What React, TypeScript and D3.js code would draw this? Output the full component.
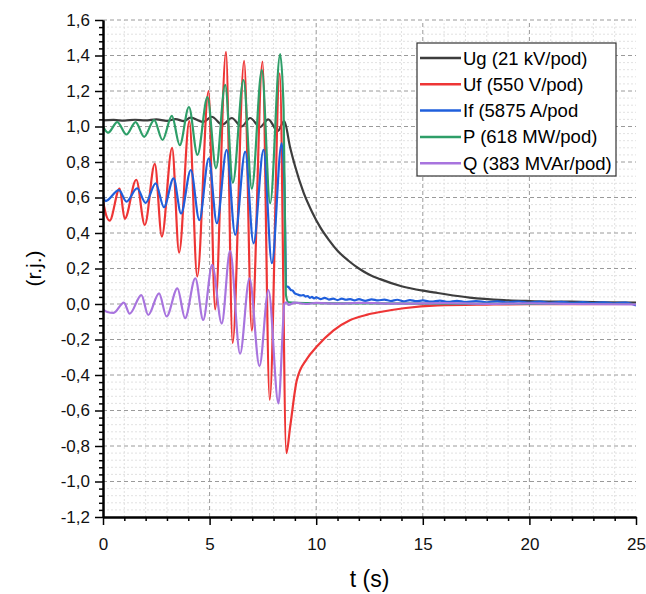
import React, { useEffect, useRef } from "react";
import * as d3 from "d3";

type Pt = [number, number];

// series: [t (s), value (r.j.)]
const ugData: Pt[] = [
  [0, 1.035], [0.5, 1.037], [1, 1.033], [1.5, 1.038], [2, 1.034], [2.5, 1.04], [3, 1.032],
  [3.4, 1.042], [3.8, 1.03], [4.1, 1.05], [4.7, 1.025], [5.1, 1.055], [5.6, 1.01], [6.04, 1.048],
  [6.5, 1.0], [6.9, 1.048], [7.37, 0.997], [7.75, 1.04], [8.2, 0.975], [8.5, 1.03], [8.78, 0.88],
  [9.0, 0.78], [9.4, 0.63], [9.8, 0.52], [10.2, 0.43], [10.6, 0.36], [11.0, 0.3], [11.5, 0.245],
  [12.0, 0.2], [12.5, 0.165], [13.0, 0.14], [14.0, 0.1], [15.0, 0.075], [15.7, 0.062],
  [17.2, 0.036], [18.8, 0.022], [20, 0.017], [21.9, 0.013], [23.5, 0.01], [25, 0.008],
];

const ufData: Pt[] = [
  [0, 0.58], [0.15, 0.5], [0.31, 0.47], [0.78, 0.65], [1.02, 0.48], [1.56, 0.7], [1.96, 0.445],
  [2.43, 0.79], [2.76, 0.38], [3.24, 0.88], [3.57, 0.29], [4.05, 1.03], [4.42, 0.155],
  [4.95, 1.2], [5.26, -0.03], [5.77, 1.42], [6.08, -0.22], [6.62, 1.37], [6.98, -0.15],
  [7.48, 1.365], [7.82, -0.54], [8.29, 1.3], [8.6, -0.84], [8.78, -0.69], [9.09, -0.43],
  [9.56, -0.31], [10.03, -0.24], [10.8, -0.15], [11.6, -0.09], [12.4, -0.06], [13.0, -0.045],
  [14.1, -0.024], [15.7, -0.008], [18, -0.003], [20, -0.001], [25, 0.0],
];

const ifData: Pt[] = [
  [0, 0.615], [0.12, 0.58], [0.75, 0.642], [1.1, 0.577], [1.6, 0.652], [2.0, 0.57], [2.47, 0.68],
  [2.86, 0.545], [3.31, 0.708], [3.66, 0.51], [4.12, 0.755], [4.52, 0.473], [4.96, 0.82],
  [5.34, 0.455], [5.8, 0.868], [6.2, 0.39], [6.67, 0.858], [7.06, 0.342], [7.53, 0.868],
  [7.92, 0.23], [8.38, 0.905], [8.5, 0.7], [8.6, 0.1], [8.7, 0.095], [8.8, 0.08], [8.9, 0.075],
  [9.0, 0.06], [9.1, 0.055], [9.2, 0.05], [9.3, 0.048], [9.4, 0.05], [9.5, 0.042], [9.6, 0.045],
  [9.7, 0.035], [9.8, 0.04], [9.9, 0.032], [10.0, 0.038], [10.2, 0.028], [10.4, 0.035],
  [10.6, 0.025], [10.8, 0.03], [11.0, 0.022], [11.2, 0.03], [11.4, 0.024], [11.6, 0.028],
  [11.8, 0.02], [12.0, 0.027], [12.3, 0.018], [12.6, 0.026], [12.9, 0.02], [13.2, 0.025],
  [13.5, 0.017], [13.8, 0.024], [14.1, 0.015], [14.4, 0.022], [14.7, 0.016], [15.0, 0.02],
  [15.4, 0.013], [15.8, 0.019], [16.2, 0.012], [16.6, 0.018], [17.0, 0.011], [17.5, 0.016],
  [18.0, 0.01], [18.5, 0.015], [19.0, 0.009], [19.5, 0.014], [20.0, 0.008], [20.5, 0.013],
  [21.0, 0.007], [21.5, 0.012], [22.0, 0.006], [22.5, 0.011], [23.0, 0.005], [23.5, 0.01],
  [24.0, 0.004], [24.5, 0.008], [25.0, -0.008],
];

const pData: Pt[] = [
  [0, 1.0], [0.24, 0.965], [0.67, 1.025], [1.1, 0.955], [1.53, 1.025], [1.93, 0.942],
  [2.4, 1.036], [2.79, 0.924], [3.23, 1.06], [3.6, 0.895], [4.03, 1.11], [4.43, 0.84],
  [4.9, 1.165], [5.3, 0.765], [5.73, 1.234], [6.09, 0.683], [6.59, 1.262], [6.98, 0.65],
  [7.45, 1.318], [7.84, 0.567], [8.31, 1.408], [8.47, 1.1], [8.55, 0.3], [8.58, 0.05],
  [8.7, 0.01], [9.5, 0.005], [12, 0.003], [25, 0.0],
];

const qData: Pt[] = [
  [0, -0.03], [0.2, -0.045], [0.5, -0.05], [0.98, 0.008], [1.25, -0.055], [1.8, 0.05],
  [2.12, -0.062], [2.63, 0.06], [2.98, -0.07], [3.49, 0.088], [3.85, -0.08], [4.33, 0.145],
  [4.7, -0.09], [5.12, 0.22], [5.57, -0.11], [5.96, 0.3], [6.43, -0.28], [6.87, 0.145],
  [7.34, -0.35], [7.76, 0.079], [8.23, -0.56], [8.45, -0.1], [8.5, 0.0], [8.6, 0.01],
  [8.7, -0.005], [9.0, 0.008], [9.5, 0.0], [10, 0.006], [11, 0.002], [12, 0.006], [14, 0.002],
  [16, 0.005], [18, 0.001], [20, 0.004], [22, 0.0], [25, -0.002],
];

const seriesData = [ugData, ufData, ifData, pData, qData];
const seriesNames = [
  "Ug (21 kV/pod)",
  "Uf (550 V/pod)",
  "If (5875 A/pod",
  "P (618 MW/pod)",
  "Q (383 MVAr/pod)",
];
const seriesColors = ["#3d3d3d", "#ee3535", "#1f5fdc", "#2e9e68", "#a874de"];

const xTicks = [0, 5, 10, 15, 20, 25];
const yTicks = [-1.2, -1.0, -0.8, -0.6, -0.4, -0.2, 0, 0.2, 0.4, 0.6, 0.8, 1.0, 1.2, 1.4, 1.6];

const fmt = (v: number) => v.toFixed(1).replace(".", ",");

export default function App() {
  const svgRef = useRef(null);

  useEffect(() => {
    const width = 646;
    const height = 594;
    const svg = d3.select(svgRef.current)
      .attr("width", width)
      .attr("height", height);

    svg.selectAll("*").remove();

    const margin = { left: 103, top: 20, right: 10, bottom: 77 };
    const x = d3.scaleLinear().domain([0, 25]).range([margin.left, width - margin.right]);
    const y = d3.scaleLinear().domain([-1.2, 1.6]).range([height - margin.bottom, margin.top]);

    svg.append("rect").attr("width", width).attr("height", height).attr("fill", "#fff");

    // minor grid
    const xMinor = d3.range(0, 26).filter((d) => d % 5 !== 0);
    const yMinor = d3.range(0, 71).map((i) => -1.2 + i * 0.04).filter((_, i) => i % 5 !== 0);
    const grid = svg.append("g");
    grid.selectAll(".xm").data(xMinor).join("line")
      .attr("x1", (d) => x(d)).attr("x2", (d) => x(d))
      .attr("y1", y(-1.2)).attr("y2", y(1.6))
      .attr("stroke", "#d9d9d9").attr("stroke-dasharray", "2,2").attr("stroke-width", 0.8);
    grid.selectAll(".ym").data(yMinor).join("line")
      .attr("x1", x(0)).attr("x2", x(25))
      .attr("y1", (d) => y(d)).attr("y2", (d) => y(d))
      .attr("stroke", "#d9d9d9").attr("stroke-dasharray", "2,2").attr("stroke-width", 0.8);
    // major grid
    grid.selectAll(".xM").data(xTicks.filter((d) => d > 0 && d < 25)).join("line")
      .attr("x1", (d) => x(d)).attr("x2", (d) => x(d))
      .attr("y1", y(-1.2)).attr("y2", y(1.6))
      .attr("stroke", "#9a9a9a").attr("stroke-dasharray", "4,3").attr("stroke-width", 1);
    grid.selectAll(".yM").data(yTicks.filter((d) => d > -1.2)).join("line")
      .attr("x1", x(0)).attr("x2", x(25))
      .attr("y1", (d) => y(d)).attr("y2", (d) => y(d))
      .attr("stroke", "#9a9a9a").attr("stroke-dasharray", "4,3").attr("stroke-width", 1);

    // lines
    svg.append("clipPath").attr("id", "plotclip")
      .append("rect")
      .attr("x", x(0)).attr("y", y(1.6) - 5)
      .attr("width", x(25) - x(0)).attr("height", y(-1.2) - y(1.6) + 5);

    const line = d3.line<Pt>()
      .x((d) => x(d[0]))
      .y((d) => y(d[1]))
      .curve(d3.curveMonotoneX);

    const lines = svg.append("g").attr("clip-path", "url(#plotclip)");
    seriesData.forEach((data, i) => {
      lines.append("path")
        .attr("d", line(data))
        .attr("fill", "none")
        .attr("stroke", seriesColors[i])
        .attr("stroke-width", 2.2)
        .attr("stroke-linejoin", "round");
    });

    // axes
    const font = "'Liberation Sans', Arial, sans-serif";
    const yAxis = svg.append("g")
      .attr("transform", `translate(${margin.left},0)`)
      .call(d3.axisLeft(y).tickValues(yTicks).tickSize(8).tickSizeOuter(0).tickPadding(5).tickFormat(fmt));
    svg.append("g")
      .attr("transform", `translate(${margin.left},0)`)
      .call(d3.axisLeft(y).tickValues(yMinor).tickSize(4).tickSizeOuter(0).tickFormat(() => ""));
    const xAxis = svg.append("g")
      .attr("transform", `translate(0,${height - margin.bottom})`)
      .call(d3.axisBottom(x).tickValues(xTicks).tickSize(8).tickSizeOuter(0).tickPadding(13).tickFormat((d) => String(d)));
    svg.append("g")
      .attr("transform", `translate(0,${height - margin.bottom})`)
      .call(d3.axisBottom(x).tickValues(xMinor).tickSize(4).tickSizeOuter(0).tickFormat(() => ""));

    svg.selectAll(".domain").attr("stroke", "#000").attr("stroke-width", 2);
    svg.selectAll(".tick line").attr("stroke", "#000").attr("stroke-width", 1.5);
    [yAxis, xAxis].forEach((g) =>
      g.selectAll("text").attr("font-family", font).attr("font-size", 17).attr("fill", "#111"));

    // axis titles
    svg.append("text")
      .attr("transform", `translate(41,${y(0.2)}) rotate(-90)`)
      .attr("text-anchor", "middle")
      .attr("font-family", font).attr("font-size", 21)
      .text("(r.j.)");
    svg.append("text")
      .attr("x", (x(0) + x(25)) / 2)
      .attr("y", 587)
      .attr("text-anchor", "middle")
      .attr("font-family", font).attr("font-size", 23)
      .text("t (s)");

    // legend
    const legend = svg.append("g");
    legend.append("rect")
      .attr("x", 417).attr("y", 43).attr("width", 199).attr("height", 133)
      .attr("fill", "#fff").attr("stroke", "#333").attr("stroke-width", 1.2);
    seriesNames.forEach((name, i) => {
      const ry = 58 + i * 26.3;
      legend.append("line")
        .attr("x1", 420).attr("x2", 461).attr("y1", ry).attr("y2", ry)
        .attr("stroke", seriesColors[i]).attr("stroke-width", 2.5);
      legend.append("text")
        .attr("x", 463).attr("y", ry + 6.5)
        .attr("font-family", font).attr("font-size", 18.5)
        .text(name);
    });
  }, []);

  return (
    <svg ref={svgRef} style={{ position: "absolute", left: 0, top: 0 }} />
  );
}
